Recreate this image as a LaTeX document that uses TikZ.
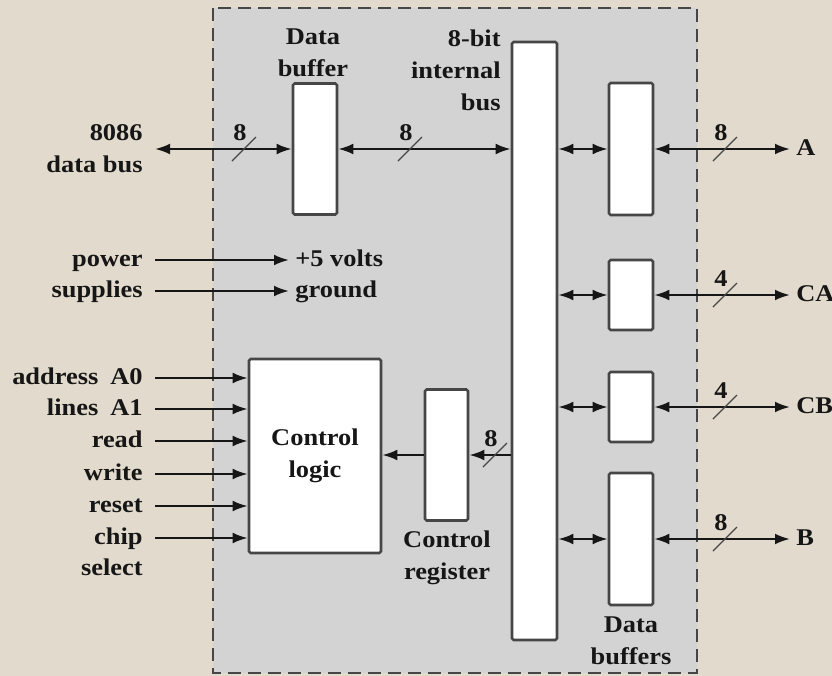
\documentclass[tikz,border=0pt]{standalone}
\usepackage{fontspec}
\setmainfont{Liberation Serif}[FakeStretch=1.1]
\usetikzlibrary{arrows.meta, positioning, calc}
\definecolor{parchment}{RGB}{226,219,205}
\definecolor{chipGray}{RGB}{211,211,211}
\definecolor{inkDark}{RGB}{22,22,22}
\definecolor{edgeGray}{RGB}{70,70,70}

\begin{document}
\begin{tikzpicture}[x=0.5pt, y=-0.5pt,
    font=\fontsize{12}{16}\selectfont\bfseries,
    >={Latex[length=7.5pt, width=5.4pt]},
    blk/.style={draw=edgeGray, fill=white, line width=1.3pt, rounded corners=0.8pt, inner sep=0pt, text=inkDark, align=center},
    lbl/.style={anchor=east, inner xsep=6pt, inner ysep=0pt, text height=8.5pt, text depth=2.5pt, text=inkDark},
    port/.style={anchor=west, inner xsep=3pt, inner ysep=0pt, text height=8.5pt, text depth=2.5pt, text=inkDark},
    captxt/.style={inner sep=0pt, align=center, text=inkDark},
    wire/.style={draw=inkDark, line width=1.1pt},
    slash/.style={draw=edgeGray, line width=0.7pt},
    wlbl/.style={inner sep=0pt, text=inkDark}]
        \useasboundingbox (0,0) rectangle (832,676);
        \fill[parchment] (0,0) rectangle (832,676);
        \draw[edgeGray, line width=1.4pt, dash pattern=on 6.5pt off 3.5pt, fill=chipGray] (213,8) rectangle (697,673);

        % blocks
        \node[blk, minimum width=22pt, minimum height=65.5pt] (dbuf) at (315,149) {};
        \node[blk, minimum width=22.5pt, minimum height=299pt] (bus) at (534.5,341) {};
        \node[blk, minimum width=22pt, minimum height=66pt] (bufA) at (631,149) {};
        \node[blk, minimum width=22pt, minimum height=35pt] (bufCA) at (631,295) {};
        \node[blk, minimum width=22pt, minimum height=35pt] (bufCB) at (631,407) {};
        \node[blk, minimum width=22pt, minimum height=66pt] (bufB) at (631,539) {};
        \node[blk, minimum width=66pt, minimum height=97pt] (ctrl) at (315,456) {Control\\logic};
        \node[blk, minimum width=21.5pt, minimum height=65.5pt] (creg) at (446.5,455) {};

        % captions
        \node[captxt] (dbufcap) at (313,52.5) {Data\\buffer};
        \node[captxt, anchor=east, align=right] (buscap) at (501,70) {8-bit\\internal\\bus};
        \node[captxt] (cregcap) at (447,557.5) {Control\\register};
        \node[captxt] (bufscap) at (631,640.5) {Data\\buffers};

        % outside signals
        \node[anchor=east, inner xsep=6pt, inner ysep=0pt, align=right, text=inkDark] (host) at (155,149) {8086\\data bus};
        \node[lbl] (pwr) at (155,260) {power};
        \node[lbl] (sup) at (155,291) {supplies};
        \node[port] (volts) at (289,260) {+5 volts};
        \node[port] (gnd) at (289,291) {ground};
        \node[lbl] (a0) at (155,378) {address\enspace A0};
        \node[lbl] (a1) at (155,409) {lines\enspace A1};
        \node[lbl] (rd) at (155,441) {read};
        \node[lbl] (wr) at (155,474) {write};
        \node[lbl] (rst) at (155,506) {reset};
        \node[lbl] (chip) at (155,538) {chip};
        \node[lbl] (sel) at (155,569) {select};
        \node[port] (pA) at (790,149) {A};
        \node[port] (pCA) at (790,295) {CA};
        \node[port] (pCB) at (790,407) {CB};
        \node[port] (pB) at (790,539) {B};

        % data paths
        \draw[wire, <->] (host.east) -- (dbuf.west);
        \draw[wire, <->] (dbuf.east) -- (dbuf.east -| bus.west);
        \draw[wire, <->] (bufA.west -| bus.east) -- (bufA.west);
        \draw[wire, <->] (bufA.east) -- (pA.west);
        \draw[wire, <->] (bufCA.west -| bus.east) -- (bufCA.west);
        \draw[wire, <->] (bufCA.east) -- (pCA.west);
        \draw[wire, <->] (bufCB.west -| bus.east) -- (bufCB.west);
        \draw[wire, <->] (bufCB.east) -- (pCB.west);
        \draw[wire, <->] (bufB.west -| bus.east) -- (bufB.west);
        \draw[wire, <->] (bufB.east) -- (pB.west);
        \draw[wire, ->] (creg.east -| bus.west) -- (creg.east);
        \draw[wire, ->] (creg.west) -- (creg.west -| ctrl.east);

        % supplies and control inputs
        \draw[wire, ->] (pwr.east) -- (volts.west);
        \draw[wire, ->] (sup.east) -- (gnd.west);
        \draw[wire, ->] (a0.east) -- (a0.east -| ctrl.west);
        \draw[wire, ->] (a1.east) -- (a1.east -| ctrl.west);
        \draw[wire, ->] (rd.east) -- (rd.east -| ctrl.west);
        \draw[wire, ->] (wr.east) -- (wr.east -| ctrl.west);
        \draw[wire, ->] (rst.east) -- (rst.east -| ctrl.west);
        \draw[wire, ->] (chip.east) -- (chip.east -| ctrl.west);

        % bus widths
        \coordinate (w1) at (244,149);
        \coordinate (w2) at (410,149);
        \coordinate (w3) at (725,149);
        \coordinate (w4) at (725,295);
        \coordinate (w5) at (725,407);
        \coordinate (w6) at (725,539);
        \coordinate (w7) at (495,455);
        \draw[slash] ($(w1)+(-12,12)$) -- ($(w1)+(12,-12)$);
        \draw[slash] ($(w2)+(-12,12)$) -- ($(w2)+(12,-12)$);
        \draw[slash] ($(w3)+(-12,12)$) -- ($(w3)+(12,-12)$);
        \draw[slash] ($(w4)+(-12,12)$) -- ($(w4)+(12,-12)$);
        \draw[slash] ($(w5)+(-12,12)$) -- ($(w5)+(12,-12)$);
        \draw[slash] ($(w6)+(-12,12)$) -- ($(w6)+(12,-12)$);
        \draw[slash] ($(w7)+(-12,12)$) -- ($(w7)+(12,-12)$);
        \node[wlbl] (w1lbl) at ($(w1)+(-4,-16)$) {8};
        \node[wlbl] (w2lbl) at ($(w2)+(-4,-16)$) {8};
        \node[wlbl] (w3lbl) at ($(w3)+(-4,-16)$) {8};
        \node[wlbl] (w4lbl) at ($(w4)+(-4,-16)$) {4};
        \node[wlbl] (w5lbl) at ($(w5)+(-4,-16)$) {4};
        \node[wlbl] (w6lbl) at ($(w6)+(-4,-16)$) {8};
        \node[wlbl] (w7lbl) at ($(w7)+(-4,-16)$) {8};
      \end{tikzpicture}
\end{document}
